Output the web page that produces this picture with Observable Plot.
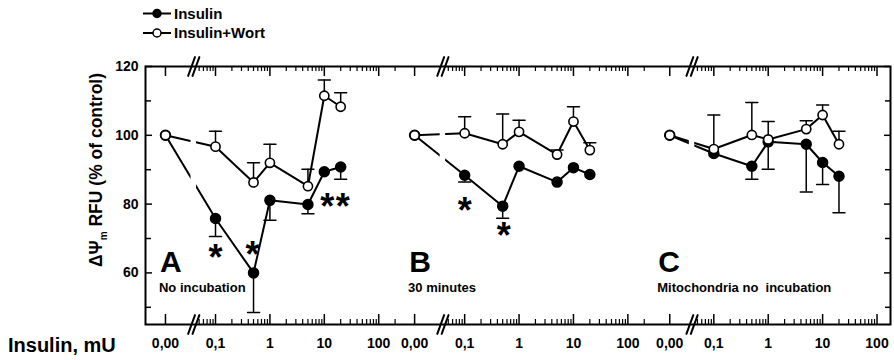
<!DOCTYPE html>
<html>
<head>
<meta charset="utf-8">
<script src="https://cdn.jsdelivr.net/npm/d3@7"></script>
<script src="https://cdn.jsdelivr.net/npm/@observablehq/plot@0.6"></script>
<style>
  html, body { margin: 0; padding: 0; background: #fff; }
  #chart { width: 894px; height: 360px; }
  svg text { white-space: pre; }
</style>
</head>
<body>
<div id="chart"></div>
<script>
// Mitochondrial membrane potential (ΔΨm) after insulin, with or without wortmannin
const panels = ["A", "B", "C"];
const panelNotes = ["No incubation", "30 minutes", "Mitochondria no  incubation"];
const doses = [0, 0.1, 0.5, 1, 5, 10, 20]; // mU

const insulinA    = [100, 75.8, 60.0, 81.1, 79.9, 89.4, 90.8];
const insulinErrA = [null, 5.2, 11.5, 5.8, 2.7, null, 3.6];
const wortA       = [100, 96.7, 86.3, 92.0, 85.2, 111.5, 108.3];
const wortErrA    = [null, 4.5, 5.7, 5.4, 4.9, 4.6, 4.1];

const insulinB    = [100, 88.4, 79.4, 91.0, 86.4, 90.6, 88.6];
const insulinErrB = [null, 2.0, 3.5, null, null, null, null];
const wortB       = [100, 100.6, 97.4, 101.0, 94.4, 104.0, 95.7];
const wortErrB    = [null, 4.8, 8.8, 3.4, 1.3, 4.3, 2.1];

const insulinC    = [100, 94.7, 91.0, 98.1, 97.4, 92.1, 88.1];
const insulinErrC = [null, null, 3.8, 8.0, 13.9, 6.4, 10.6];
const wortC       = [100, 96.0, 100.1, 98.8, 101.8, 105.9, 97.4];
const wortErrC    = [null, 9.9, 9.4, 5.2, 2.4, 2.9, 3.8];

// significant differences (insulin alone vs control)
const starPanel = ["A", "A", "A", "A", "B", "B"];
const starDose  = [0.1, 0.5, 10, 20, 0.1, 0.5];

const xTickDoses  = [0, 0.1, 1, 10, 100];
const xTickLabels = ["0,00", "0,1", "1", "10", "100"];
const xMinorDoses = [0.05, 0.06, 0.07, 0.08, 0.09,
                     0.2, 0.3, 0.4, 0.5, 0.6, 0.7, 0.8, 0.9,
                     2, 3, 4, 5, 6, 7, 8, 9,
                     20, 30, 40, 50, 60, 70, 80, 90, 200];
const yTicks      = [60, 80, 100, 120];
const yMinorTicks = [50, 70, 90, 110];

// ---- layout of the broken, three-panel log axis (units: decades) ----
const W = 894, H = 360;
const mL = 145, mR = 4, mT = 66, mB = 36;
const innerW = W - mL - mR, innerH = H - mT - mB;
const panelStep = 4.58;            // distance between the panels' 0.1 ticks
const zeroGap = [0.92, 0.92, 0.81]; // "0,00" sits this far left of 0.1
const breakGap = 0.40;              // axis break, left of 0.1
const xDomain = [-1.287, 12.408];
const yDomain = [45, 120];
const pos = (p, d) => p * panelStep + (d === 0 ? -zeroGap[p] : Math.log10(d / 0.1));
const inX = u => u >= xDomain[0] && u <= xDomain[1];

const series = [
  {name: "Insulin", fill: "black", dir: -1,
   means: [insulinA, insulinB, insulinC], errs: [insulinErrA, insulinErrB, insulinErrC]},
  {name: "Insulin+Wort", fill: "white", dir: 1,
   means: [wortA, wortB, wortC], errs: [wortErrA, wortErrB, wortErrC]}
];

const rows = series.flatMap(s => panels.flatMap((_, p) => doses.map((d, i) => ({
  series: s.name, panel: p, dose: d, u: pos(p, d),
  mean: s.means[p][i], err: s.errs[p][i], dir: s.dir, fill: s.fill
}))));
const errRows = rows.filter(r => r.err != null);

const majorTicks = panels.flatMap((_, p) => xTickDoses.map((d, i) => ({u: pos(p, d), label: xTickLabels[i]})))
  .filter(t => inX(t.u));
const minorTicks = panels.flatMap((_, p) => xMinorDoses.map(d => pos(p, d))).filter(inX);
const breaks = panels.map((_, p) => p * panelStep - breakGap);

const stars = starPanel.map((pn, i) => {
  const p = panels.indexOf(pn);
  const k = doses.indexOf(starDose[i]);
  return {u: pos(p, starDose[i]), mean: series[0].means[p][k]};
});
const starNudgeY = [31, -27, 26, 31, 27, 21];
const starNudgeX = [0, -1, 3, 2, 0, 1];
const starSize = 36;

// a plain stroke used for caps, slashes
const stroke = {draw(ctx, l) { ctx.moveTo(0, 0); ctx.lineTo(0, -l); }};

const font = "'Liberation Sans', Arial, Helvetica, sans-serif";

const chart = Plot.plot({
  width: W, height: H,
  marginLeft: mL, marginRight: mR, marginTop: mT, marginBottom: mB,
  style: {fontFamily: font, fontWeight: "bold", background: "white", color: "black"},
  x: {type: "linear", domain: xDomain, axis: null},
  y: {type: "linear", domain: yDomain, axis: null},
  marks: [
    // connecting lines, cut where they cross an axis break
    Plot.line(rows, {x: "u", y: "mean", z: d => d.series + d.panel, stroke: "black", strokeWidth: 2}),
    Plot.rect(breaks, {x1: d => d - 0.05, x2: d => d + 0.05, y1: yDomain[0], y2: yDomain[1],
                       fill: "white", insetTop: 3, insetBottom: 3}),

    // one-sided error bars with caps
    Plot.ruleX(errRows, {x: "u", y1: "mean", y2: d => d.mean + d.dir * d.err, stroke: "black", strokeWidth: 1.5}),
    Plot.vector(errRows, {x: "u", y: d => d.mean + d.dir * d.err, length: 12, rotate: 90,
                          anchor: "middle", shape: stroke, stroke: "black", strokeWidth: 1.5}),

    // points
    Plot.dot(rows.filter(r => r.fill === "black"), {x: "u", y: "mean", r: 5, fill: "black", stroke: "black", strokeWidth: 1.5}),
    Plot.dot(rows.filter(r => r.fill === "white"), {x: "u", y: "mean", r: 4.6, fill: "white", stroke: "black", strokeWidth: 1.6}),

    // frame and inward ticks on all four sides
    Plot.frame({stroke: "black", strokeWidth: 2}),
    Plot.tickX(majorTicks, {x: "u", insetTop: innerH - 10, stroke: "black", strokeWidth: 1.5}),
    Plot.tickX(minorTicks, {x: d => d, insetTop: innerH - 5, stroke: "black", strokeWidth: 1.2}),
    Plot.tickX(majorTicks, {x: "u", insetBottom: innerH - 10, stroke: "black", strokeWidth: 1.5}),
    Plot.tickX(minorTicks, {x: d => d, insetBottom: innerH - 5, stroke: "black", strokeWidth: 1.2}),
    Plot.tickY(yTicks, {y: d => d, insetRight: innerW - 7, stroke: "black", strokeWidth: 1.5}),
    Plot.tickY(yMinorTicks, {y: d => d, insetRight: innerW - 6, stroke: "black", strokeWidth: 1.5}),
    Plot.tickY(yTicks, {y: d => d, insetLeft: innerW - 6, stroke: "black", strokeWidth: 1.5}),
    Plot.tickY(yMinorTicks, {y: d => d, insetLeft: innerW - 5, stroke: "black", strokeWidth: 1.5}),

    // axis break slashes, top and bottom
    ...["top", "bottom"].flatMap(fa => [-2.2, 2.2].map(dx =>
      Plot.vector(breaks, {x: d => d, frameAnchor: fa, dx, length: 20, rotate: 20, anchor: "middle",
                           shape: stroke, stroke: "black", strokeWidth: 2})
    )),

    // tick labels
    Plot.text(majorTicks, {x: "u", text: "label", frameAnchor: "bottom", lineAnchor: "middle",
                           dy: 19, fontSize: 14, fill: "black"}),
    Plot.text(yTicks, {y: d => d, text: d => String(d), frameAnchor: "left", textAnchor: "end",
                       lineAnchor: "middle", dx: -7, fontSize: 14, fill: "black"}),

    // panel letters and notes
    Plot.text(panels, {x: (d, i) => i * panelStep - 1.02, text: d => d, frameAnchor: "bottom",
                       lineAnchor: "bottom", textAnchor: "start", dy: -53, fontSize: 30, fill: "black"}),
    Plot.text(panelNotes, {x: (d, i) => i * panelStep - 1.04, text: d => d, frameAnchor: "bottom",
                           lineAnchor: "bottom", textAnchor: "start", dy: -33, fontSize: 13, fill: "black"}),

    // significance stars
    ...stars.map((s, i) => Plot.text([s], {x: "u", y: "mean", text: () => "*", fontSize: starSize,
      lineAnchor: "bottom", dx: starNudgeX[i], dy: starNudgeY[i] + 0.58 * starSize, fill: "black"}))
  ]
});

document.getElementById("chart").appendChild(chart);

// y-axis title with subscript, x-axis title and the legend
const svg = d3.select(chart);
const ttl = svg.append("text")
  .attr("transform", "translate(102,170) rotate(-90)")
  .attr("text-anchor", "middle")
  .attr("font-family", font).attr("font-weight", "bold").attr("font-size", 17.5).attr("fill", "black");
ttl.append("tspan").text("ΔΨ");
ttl.append("tspan").attr("font-size", 10).attr("dy", 5).text("m");
ttl.append("tspan").attr("dy", -5).text(" RFU (% of control)");

svg.append("text")
  .attr("x", 8).attr("y", 352).attr("text-anchor", "start")
  .attr("font-family", font).attr("font-weight", "bold").attr("font-size", 20).attr("fill", "black")
  .text("Insulin, mU");

const legend = svg.append("g").attr("font-family", font).attr("font-weight", "bold")
  .attr("font-size", 15).attr("text-anchor", "start");
series.forEach((s, i) => {
  const cy = 13.5 + i * 19.5;
  const g = legend.append("g");
  g.append("line").attr("x1", 143).attr("x2", 171).attr("y1", cy).attr("y2", cy)
    .attr("stroke", "black").attr("stroke-width", 2);
  g.append("circle").attr("cx", 157).attr("cy", cy).attr("r", 4)
    .attr("fill", s.fill).attr("stroke", "black").attr("stroke-width", 1.5);
  g.append("text").attr("x", 174).attr("y", cy).attr("dy", "0.36em").attr("fill", "black").text(s.name);
});
</script>
</body>
</html>
